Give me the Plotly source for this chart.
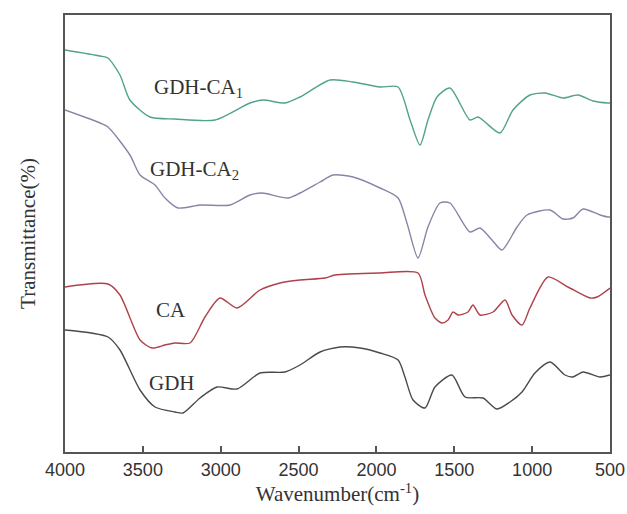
import plotly.graph_objects as go

# Wavenumber (cm^-1) and relative transmittance (arbitrary units)
ca1_x = [4000, 3775, 3724, 3647, 3583, 3454, 3294, 3037, 2812, 2728, 2587, 2491, 2298, 2150,
         1977, 1861, 1784, 1720, 1669, 1611, 1528, 1399, 1348, 1303, 1206, 1123, 1014, 917,
         802, 705, 609, 513, 500]
ca1_y = [402, 396, 394, 377, 352, 335, 333, 332, 349, 352, 349, 355, 372, 370,
         365, 365, 332, 307, 332, 355, 364, 332, 335, 330, 319, 342, 357, 359,
         354, 357, 351, 349, 349]

ca2_x = [4000, 3775, 3724, 3583, 3518, 3422, 3358, 3274, 3133, 2940, 2812, 2735, 2568, 2491,
         2362, 2279, 2150, 1977, 1861, 1804, 1733, 1669, 1592, 1528, 1399, 1335, 1258, 1194,
         1097, 1033, 885, 802, 738, 673, 564, 513, 500]
ca2_y = [342, 329, 325, 297, 277, 267, 254, 244, 247, 247, 257, 259, 254, 259,
         270, 277, 275, 264, 254, 229, 194, 225, 249, 249, 220, 224, 212, 202,
         225, 237, 242, 233, 234, 243, 237, 235, 235]

ca_x = [4000, 3724, 3647, 3518, 3441, 3358, 3294, 3197, 3101, 3005, 2895, 2748, 2619, 2491,
        2330, 2266, 1977, 1733, 1688, 1624, 1579, 1540, 1508, 1476, 1412, 1380, 1335, 1251,
        1174, 1129, 1065, 1014, 898, 770, 628, 583, 500]
ca_y = [165, 168, 157, 112, 104, 107, 109, 109, 135, 154, 144, 162, 169, 172,
        174, 177, 179, 179, 157, 134, 129, 132, 140, 137, 140, 147, 137, 140,
        152, 137, 127, 144, 175, 165, 154, 155, 164]

gdh_x = [4000, 3724, 3647, 3518, 3422, 3294, 3242, 3133, 3024, 2895, 2748, 2587, 2491, 2362,
         2234, 2105, 1977, 1861, 1817, 1765, 1688, 1624, 1515, 1431, 1316, 1226, 1142, 1065,
         982, 885, 789, 738, 673, 564, 500]
gdh_y = [122, 115, 102, 62, 45, 40, 39, 54, 65, 63, 79, 80, 87, 100,
         105, 104, 99, 92, 75, 52, 44, 65, 77, 55, 54, 43, 50, 60,
         79, 90, 77, 75, 80, 75, 77]

labels = ["GDH-CA<sub>1</sub>", "GDH-CA<sub>2</sub>", "CA", "GDH"]
label_x = [3140, 3170, 3319, 3313]
label_y = [364, 282, 142, 69]

x_ticks = [4000, 3500, 3000, 2500, 2000, 1500, 1000, 500]

series = [
    (ca1_x, ca1_y, "#52a38c"),
    (ca2_x, ca2_y, "#8b83a6"),
    (ca_x, ca_y, "#b0414b"),
    (gdh_x, gdh_y, "#4a4a4a"),
]

fig = go.Figure()
for xs, ys, col in series:
    fig.add_trace(go.Scatter(x=xs, y=ys, mode="lines",
                             line=dict(color=col, width=1.4, shape="spline", smoothing=0.7),
                             showlegend=False, hoverinfo="skip"))

for t, lx, ly in zip(labels, label_x, label_y):
    fig.add_annotation(x=lx, y=ly, text=t, showarrow=False,
                       font=dict(family="Liberation Serif, Times New Roman, serif", size=21, color="#333"))

fig.update_layout(
    width=627, height=514,
    margin=dict(l=65, r=17, t=15, b=62, autoexpand=False),
    paper_bgcolor="white", plot_bgcolor="white",
    xaxis=dict(range=[4000, 500], tickvals=x_ticks, ticks="inside", ticklen=6, tickwidth=2,
               tickcolor="#555", showline=True, linecolor="#555", linewidth=2, mirror=True,
               showgrid=False, zeroline=False, automargin=False,
               tickfont=dict(family="Liberation Sans, Arial, sans-serif", size=18, color="#333"),
               title=dict(text="Wavenumber(cm<sup>-1</sup>)", standoff=8,
                          font=dict(family="Liberation Serif, Times New Roman, serif", size=21, color="#333"))),
    yaxis=dict(range=[0, 437], showticklabels=False, ticks="", showline=True, linecolor="#555",
               linewidth=2, mirror=True, showgrid=False, zeroline=False, automargin=False,
               title=dict(text="Transmittance(%)", standoff=22,
                          font=dict(family="Liberation Serif, Times New Roman, serif", size=21, color="#333"))),
)

fig.write_html("out.html")
